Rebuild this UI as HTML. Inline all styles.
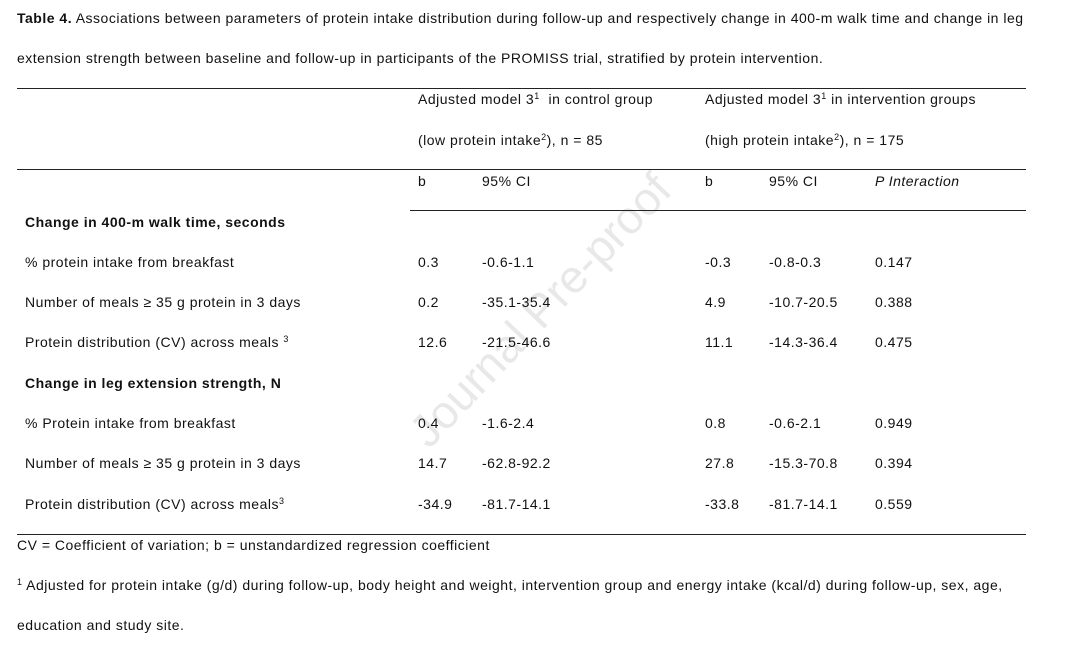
<!DOCTYPE html>
<html><head><meta charset="utf-8"><style>
body{margin:0;width:1066px;height:648px;background:#fff;position:relative;overflow:hidden;font-family:"Liberation Sans",sans-serif;font-size:14px;letter-spacing:0.5px;color:#111}
.t{position:absolute;line-height:16px;white-space:nowrap}
.l{position:absolute;height:1px;background:#222}
sup{font-size:9px;line-height:0;vertical-align:5px}
.wm{position:absolute;left:330px;top:284px;width:420px;font-size:46px;letter-spacing:0;color:#e8e8e8;transform:rotate(-46.5deg);transform-origin:center;white-space:nowrap;text-align:center;line-height:52px}
</style></head><body>
<div class="wm">Journal Pre-proof</div>
<div class="t" style="left:17px;top:10px"><b>Table 4.</b> Associations between parameters of protein intake distribution during follow-up and respectively change in 400-m walk time and change in leg</div>
<div class="t" style="left:17px;top:50px">extension strength between baseline and follow-up in participants of the PROMISS trial, stratified by protein intervention.</div>
<div class="l" style="left:17px;top:88px;width:1009px"></div>
<div class="l" style="left:17px;top:169px;width:1009px"></div>
<div class="l" style="left:410px;top:210px;width:616px"></div>
<div class="l" style="left:17px;top:534px;width:1009px"></div>
<div class="t" style="left:418px;top:91px">Adjusted model 3<sup>1</sup>&nbsp; in control group</div>
<div class="t" style="left:418px;top:132px">(low protein intake<sup>2</sup>), n = 85</div>
<div class="t" style="left:705px;top:91px">Adjusted model 3<sup>1</sup> in intervention groups</div>
<div class="t" style="left:705px;top:132px">(high protein intake<sup>2</sup>), n = 175</div>
<div class="t" style="left:418px;top:173px">b</div>
<div class="t" style="left:482px;top:173px">95% CI</div>
<div class="t" style="left:705px;top:173px">b</div>
<div class="t" style="left:769px;top:173px">95% CI</div>
<div class="t" style="left:875px;top:173px;font-style:italic">P Interaction</div>
<div id="rows"></div>
<div class="t" style="left:17px;top:537px">CV = Coefficient of variation; b = unstandardized regression coefficient</div>
<div class="t" style="left:17px;top:577px"><sup>1</sup> Adjusted for protein intake (g/d) during follow-up, body height and weight, intervention group and energy intake (kcal/d) during follow-up, sex, age,</div>
<div class="t" style="left:17px;top:617px">education and study site.</div>
<script>
const labels=["<b>Change in 400-m walk time, seconds</b>","% protein intake from breakfast","Number of meals ≥ 35 g protein in 3 days","Protein distribution (CV) across meals <sup>3</sup>","<b>Change in leg extension strength, N</b>","% Protein intake from breakfast","Number of meals ≥ 35 g protein in 3 days","Protein distribution (CV) across meals<sup>3</sup>"];
const bControl=["","0.3","0.2","12.6","","0.4","14.7","-34.9"];
const ciControl=["","-0.6-1.1","-35.1-35.4","-21.5-46.6","","-1.6-2.4","-62.8-92.2","-81.7-14.1"];
const bInterv=["","-0.3","4.9","11.1","","0.8","27.8","-33.8"];
const ciInterv=["","-0.8-0.3","-10.7-20.5","-14.3-36.4","","-0.6-2.1","-15.3-70.8","-81.7-14.1"];
const pInter=["","0.147","0.388","0.475","","0.949","0.394","0.559"];
const tops=[214,254,294,334,375,415,455,496];
const root=document.getElementById('rows');
function cell(x,y,html,name){const d=document.createElement('div');d.className='t';d.style.left=x+'px';d.style.top=y+'px';d.innerHTML=html;


root.appendChild(d);}
labels.forEach((lab,i)=>{const y=tops[i];
cell(25,y,lab,'row-label-'+i);
if(bControl[i]){cell(418,y,bControl[i],'b-control-'+i);cell(482,y,ciControl[i],'ci-control-'+i);cell(705,y,bInterv[i],'b-intervention-'+i);cell(769,y,ciInterv[i],'ci-intervention-'+i);cell(875,y,pInter[i],'p-interaction-'+i);}
});
</script>
</body></html>
